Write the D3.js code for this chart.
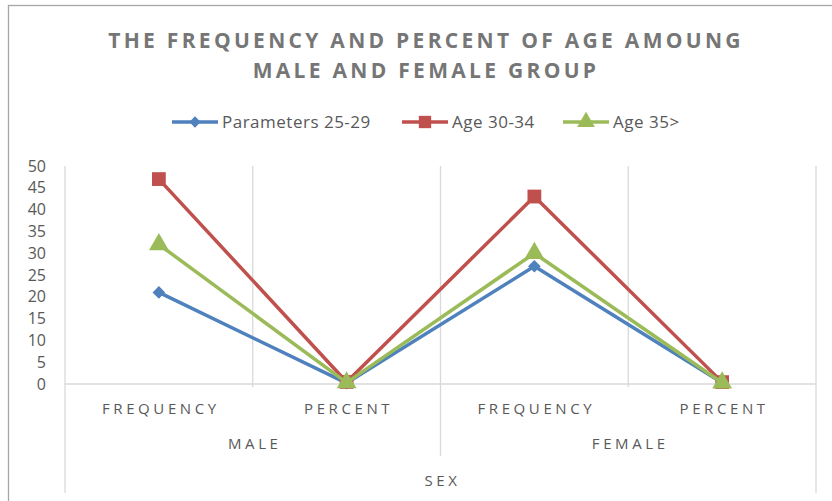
<!DOCTYPE html>
<html>
<head>
<meta charset="utf-8">
<script src="https://cdn.jsdelivr.net/npm/d3@7"></script>
<style>
  body { margin: 0; background: #fff; }
  svg text { font-family: "Open Sans", "Noto Sans", sans-serif; }
</style>
</head>
<body>
<div id="chart"></div>
<script>
// data
var categories = ["FREQUENCY", "PERCENT", "FREQUENCY", "PERCENT"];
var groups = ["MALE", "FEMALE"];
var axisTitle = "SEX";
var seriesNames = ["Parameters 25-29", "Age 30-34", "Age 35>"];
var age25 = [21, 0.21, 27, 0.27];
var age30 = [47, 0.47, 43, 0.43];
var age35 = [32, 0.32, 30, 0.30];
var yTicks = [0, 5, 10, 15, 20, 25, 30, 35, 40, 45, 50];

var colors = ["#4f81bd", "#c0504d", "#9bbb59"];
// diamond is a square turned 45 degrees, like excel draws it
var shapes = [d3.symbolSquare, d3.symbolSquare, d3.symbolTriangle];
var sizes = [80, 190, 170];
var turns = [45, 0, 0];

var width = 832, height = 501;
var plotLeft = 65, plotRight = 816, plotTop = 166, plotBottom = 384;

var svg = d3.select("#chart").append("svg")
    .attr("width", width)
    .attr("height", height);

// chart border (only top and left show in the crop)
svg.append("rect")
    .attr("x", 8.5).attr("y", 5.5)
    .attr("width", 900).attr("height", 600)
    .attr("fill", "none")
    .attr("stroke", "#a6a6a6")
    .attr("stroke-width", 1.3);

// title
var title = svg.append("text")
    .attr("text-anchor", "middle")
    .attr("fill", "#767676")
    .attr("font-size", "21px")
    .attr("font-weight", "bold")
    .attr("letter-spacing", "3.3px");
title.append("tspan").attr("x", 426).attr("y", 48).text("THE FREQUENCY AND PERCENT OF AGE AMOUNG");
title.append("tspan").attr("x", 426).attr("y", 78).text("MALE AND FEMALE GROUP");

var x = d3.scaleBand().domain(d3.range(categories.length)).range([plotLeft, plotRight]);
var y = d3.scaleLinear().domain([0, 50]).range([plotBottom, plotTop]);

// vertical gridlines between categories
svg.selectAll(".vgrid").data(d3.range(categories.length + 1)).enter().append("line")
    .attr("x1", function(d) { return d < categories.length ? x(d) : plotRight; })
    .attr("x2", function(d) { return d < categories.length ? x(d) : plotRight; })
    .attr("y1", plotTop)
    .attr("y2", function(d) {
      if (d == 0 || d == categories.length) return 493;
      if (d == 2) return 456;
      return plotBottom + 3;
    })
    .attr("stroke", "#d9d9d9")
    .attr("stroke-width", 1.3);

// x axis line
svg.append("line")
    .attr("x1", plotLeft).attr("x2", plotRight)
    .attr("y1", plotBottom).attr("y2", plotBottom)
    .attr("stroke", "#d9d9d9")
    .attr("stroke-width", 1.3);

// y axis labels
var yAxis = d3.axisLeft(y).tickValues(yTicks).tickSize(0).tickPadding(0);
var gy = svg.append("g").attr("transform", "translate(46,0)").call(yAxis);
gy.select(".domain").remove();
gy.selectAll("text")
    .attr("fill", "#595959")
    .attr("font-size", "16px")
    .style("font-family", "'Open Sans', sans-serif");

// category labels
function axisLabel(sel) {
  sel.attr("text-anchor", "middle")
     .attr("fill", "#595959")
     .attr("font-size", "15px")
     .attr("letter-spacing", "3.6px");
}

svg.selectAll(".cat").data(categories).enter().append("text")
    .attr("x", function(d, i) { return x(i) + x.bandwidth() / 2 + 2; })
    .attr("y", 414)
    .call(axisLabel)
    .text(function(d) { return d; });

svg.selectAll(".grp").data(groups).enter().append("text")
    .attr("x", function(d, i) { return x(i * 2) + x.bandwidth() + 2; })
    .attr("y", 449)
    .call(axisLabel)
    .text(function(d) { return d; });

svg.append("text")
    .attr("x", (plotLeft + plotRight) / 2 + 2)
    .attr("y", 486)
    .call(axisLabel)
    .text(axisTitle);

// series
var series = [age25, age30, age35];
var line = d3.line()
    .x(function(d, i) { return x(i) + x.bandwidth() / 2; })
    .y(function(d) { return y(d); });

series.forEach(function(values, s) {
  svg.append("path")
      .attr("d", line(values))
      .attr("fill", "none")
      .attr("stroke", colors[s])
      .attr("stroke-width", 3.5)
      .attr("stroke-linejoin", "round");
  svg.selectAll(".m" + s).data(values).enter().append("path")
      .attr("d", d3.symbol().type(shapes[s]).size(sizes[s]))
      .attr("transform", function(d, i) {
        return "translate(" + (x(i) + x.bandwidth() / 2) + "," + y(d) + ") rotate(" + turns[s] + ")";
      })
      .attr("fill", colors[s]);
});

// legend
var legendX = [172, 402, 563];
seriesNames.forEach(function(name, s) {
  var g = svg.append("g").attr("transform", "translate(" + legendX[s] + ",122)");
  g.append("line")
      .attr("x1", 0).attr("x2", 46)
      .attr("y1", 0).attr("y2", 0)
      .attr("stroke", colors[s])
      .attr("stroke-width", 3.5);
  g.append("path")
      .attr("d", d3.symbol().type(shapes[s]).size(sizes[s] * 0.8))
      .attr("transform", "translate(23,0) rotate(" + turns[s] + ")")
      .attr("fill", colors[s]);
  g.append("text")
      .attr("x", 50).attr("y", 6)
      .attr("fill", "#595959")
      .attr("font-size", "17px")
      .attr("letter-spacing", "0.5px")
      .text(name);
});
</script>
</body>
</html>
